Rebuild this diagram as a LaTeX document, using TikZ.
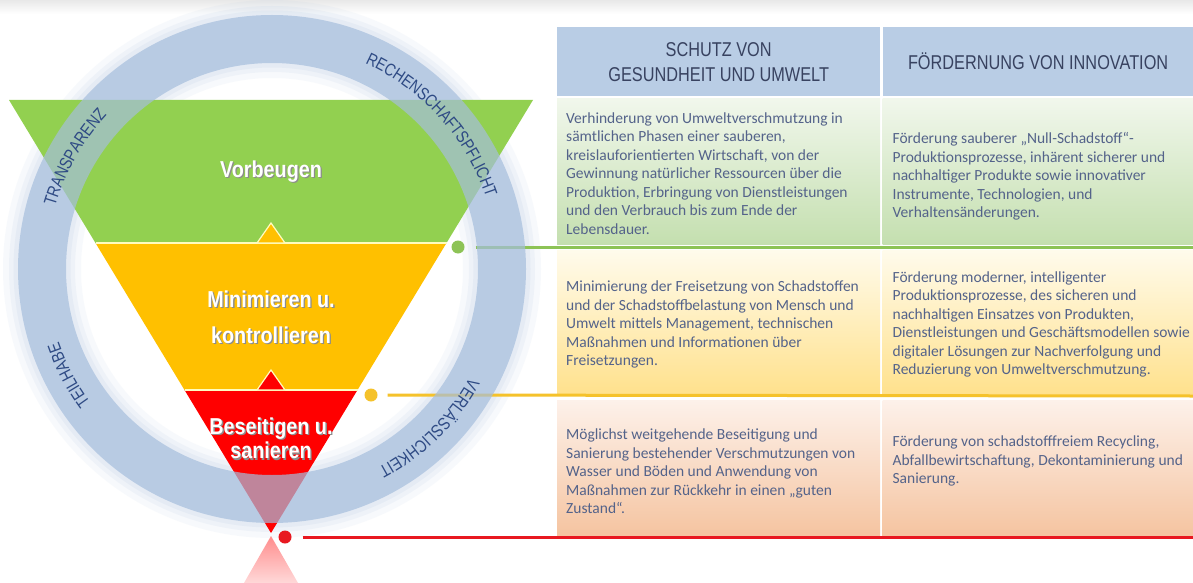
\documentclass[tikz,border=0pt]{standalone}
\usepackage{fontspec}
\setmainfont{Carlito}
\newfontfamily\narrowsans[FakeStretch=0.815]{Liberation Sans}
\newfontfamily\funnelsans[FakeStretch=0.86]{Liberation Sans}
\usepackage{tikz}
\usetikzlibrary{positioning,calc,decorations.text}

\definecolor{ringblue}{RGB}{165,190,221}
\definecolor{hdrblue}{RGB}{185,205,229}
\definecolor{fgreen}{RGB}{146,208,80}
\definecolor{fyellow}{RGB}{255,192,0}
\definecolor{fred}{RGB}{255,0,0}
\definecolor{lgreen}{RGB}{141,195,86}
\definecolor{lyellow}{RGB}{245,194,43}
\definecolor{lred}{RGB}{232,24,32}
\definecolor{bodytext}{RGB}{84,99,138}
\definecolor{hdrtext}{RGB}{56,66,96}
\definecolor{ringtext}{RGB}{46,74,132}
\definecolor{gtop}{RGB}{241,247,236}
\definecolor{gbot}{RGB}{196,223,175}
\definecolor{ytop}{RGB}{255,251,236}
\definecolor{ybot}{RGB}{255,225,140}
\definecolor{rtop}{RGB}{253,241,234}
\definecolor{rbot}{RGB}{245,196,160}

\newcommand\ringfont{\narrowsans\fontsize{17.5}{20}\selectfont\color{ringtext}}
\newcommand\shtxt[1]{\makebox[0pt][l]{\raisebox{-1.3pt}{\hspace{1.3pt}\textcolor{black!45}{#1}}}#1}

\begin{document}
\begin{tikzpicture}[x=1pt,y=-1pt]
	\tikzstyle{hdr} = [fill=hdrblue, inner sep=0pt, align=center, text=hdrtext, font=\narrowsans\fontsize{20}{25}\selectfont]
	\tikzstyle{cell} = [inner sep=0pt]
	\tikzstyle{body} = [inner sep=0pt, align=left, text=bodytext, font=\fontsize{15.5}{18.5}\selectfont]
	\tikzstyle{flabel} = [text=white, align=center, inner sep=0pt]
	\tikzstyle{dot} = [circle, minimum size=13pt, inner sep=0pt]
	\tikzstyle{sepline} = [draw=yellow!25, line width=1.2pt]
	\tikzstyle{ringtxt} = [decorate, decoration={text along path, text align=center}]

	\useasboundingbox (0,0) rectangle (1193,583);
	\fill[white] (0,0) rectangle (1193,583);
	\shade[top color=black!9, bottom color=white] (0,0) rectangle (1193,14);

	\coordinate (ring) at (272,269);

	% glow round the ring
	\draw[ringblue, opacity=0.08, line width=78pt] (ring) circle[radius=230];
	\draw[ringblue, opacity=0.10, line width=66pt] (ring) circle[radius=230];
	\draw[ringblue, opacity=0.12, line width=57pt] (ring) circle[radius=230];

	% funnel
	\fill[fgreen] (9,100) -- (533,100) -- (446.5,243) -- (95.5,243) -- cycle;
	\fill[fyellow] (95.5,243) -- (446.5,243) -- (357.5,390) -- (184.5,390) -- cycle;
	\fill[fred] (184.5,390) -- (357.5,390) -- (271,533) -- cycle;
	\draw[sepline] (95.5,243) -- (446.5,243);
	\draw[sepline] (184.5,390) -- (357.5,390);
	\filldraw[fill=fyellow, sepline] (257,243) -- (285,243) -- (271,223) -- cycle;
	\filldraw[fill=fred, sepline] (257,390) -- (285,390) -- (271,370) -- cycle;
	\shade[top color=fred!45, bottom color=fred!15] (271,536) -- (298,583) -- (244,583) -- cycle;

	% table
	\node[hdr, minimum width=323pt, minimum height=69pt, anchor=north west] (h1) at (557,27) {SCHUTZ VON\\GESUNDHEIT UND UMWELT};
	\node[hdr, minimum width=311pt, minimum height=69pt, right=2pt of h1] (h2) {FÖRDERNUNG VON INNOVATION};

	\node[cell, top color=gtop, bottom color=gbot, minimum width=323pt, minimum height=146pt, below=2pt of h1] (c11) {};
	\node[cell, top color=gtop, bottom color=gbot, minimum width=311pt, minimum height=146pt, right=2pt of c11] (c12) {};
	\node[cell, top color=ytop, bottom color=ybot, minimum width=323pt, minimum height=145pt, below=5pt of c11] (c21) {};
	\node[cell, top color=ytop, bottom color=ybot, minimum width=311pt, minimum height=145pt, right=2pt of c21] (c22) {};
	\node[cell, top color=rtop, bottom color=rbot, minimum width=323pt, minimum height=136pt, below=5pt of c21] (c31) {};
	\node[cell, top color=rtop, bottom color=rbot, minimum width=311pt, minimum height=136pt, right=2pt of c31] (c32) {};

	\node[body, right=9pt of c11.west, yshift=-2pt] (t11) {Verhinderung von Umweltverschmutzung in\\sämtlichen Phasen einer sauberen,\\kreislauforientierten Wirtschaft, von der\\Gewinnung natürlicher Ressourcen über die\\Produktion, Erbringung von Dienstleistungen\\und den Verbrauch bis zum Ende der\\Lebensdauer.};
	\node[body, right=10pt of c12.west, yshift=-5pt] (t12) {Förderung sauberer „Null-Schadstoff“-\\Produktionsprozesse, inhärent sicherer und\\nachhaltiger Produkte sowie innovativer\\Instrumente, Technologien, und\\Verhaltensänderungen.};
	\node[body, right=9pt of c21.west, yshift=-2pt] (t21) {Minimierung der Freisetzung von Schadstoffen\\und der Schadstoffbelastung von Mensch und\\Umwelt mittels Management, technischen\\Maßnahmen und Informationen über\\Freisetzungen.};
	\node[body, right=10pt of c22.west, yshift=-2pt] (t22) {Förderung moderner, intelligenter\\Produktionsprozesse, des sicheren und\\nachhaltigen Einsatzes von Produkten,\\Dienstleistungen und Geschäftsmodellen sowie\\digitaler Lösungen zur Nachverfolgung und\\Reduzierung von Umweltverschmutzung.};
	\node[body, right=9pt of c31.west, yshift=-3pt] (t31) {Möglichst weitgehende Beseitigung und\\Sanierung bestehender Verschmutzungen von\\Wasser und Böden und Anwendung von\\Maßnahmen zur Rückkehr in einen „guten\\Zustand“.};
	\node[body, right=10pt of c32.west, yshift=7pt] (t32) {Förderung von schadstofffreiem Recycling,\\Abfallbewirtschaftung, Dekontaminierung und\\Sanierung.};

	% dots and lines
	\node[dot, fill=lgreen] (gdot) at (458,247) {};
	\node[dot, fill=lyellow] (ydot) at (371,395) {};
	\node[dot, fill=lred] (rdot) at (285,537) {};
	\coordinate (gend) at (1193,247);
	\coordinate (yend) at (1193,396);
	\coordinate (rend) at (1193,537);
	\draw[lgreen, line width=3pt] ([xshift=11pt]gdot.east) -- (gend);
	\draw[lyellow, line width=3pt] ([xshift=10pt]ydot.east) -- (yend);
	\draw[lred, line width=3pt] ([xshift=11pt]rdot.east) -- (rend);

	% ring
	\draw[ringblue, opacity=0.7, line width=48pt] (ring) circle[radius=230];
	\path[ringtxt, decoration={text={|\ringfont|TRANSPARENZ}}] (ring) ++(-195.5:225.5) arc[start angle=-195.5, end angle=-105.5, radius=225.5];
	\path[ringtxt, decoration={text={|\ringfont|RECHENSCHAFTSPFLICHT}}] (ring) ++(-87:225.5) arc[start angle=-87, end angle=3, radius=225.5];
	\path[ringtxt, decoration={text={|\ringfont|TEILHABE}}] (ring) ++(-237.6:225.5) arc[start angle=-237.6, end angle=-177.6, radius=225.5];
	\path[ringtxt, decoration={text={|\ringfont|VERLÄSSLICHKEIT}}] (ring) ++(0.4:225.5) arc[start angle=0.4, end angle=90.4, radius=225.5];

	% funnel labels
	\node[flabel, font=\funnelsans\bfseries\fontsize{23}{36}\selectfont] (vorb) at (271,172) {\shtxt{Vorbeugen}};
	\node[flabel, font=\funnelsans\bfseries\fontsize{23}{36}\selectfont] (mini) at (271,318) {\shtxt{Minimieren u.}\\\shtxt{kontrollieren}};
	\node[flabel, font=\funnelsans\bfseries\fontsize{23}{24.5}\selectfont] (besei) at (271,439) {\shtxt{Beseitigen u.}\\\shtxt{sanieren}};
\end{tikzpicture}
\end{document}
